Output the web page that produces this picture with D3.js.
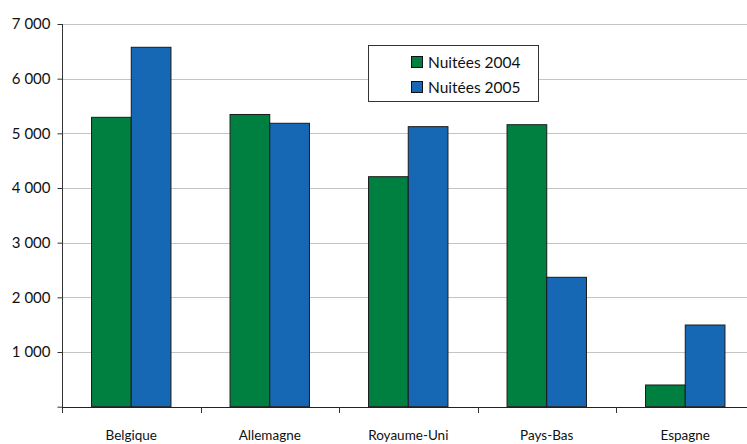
<!DOCTYPE html>
<html><head><meta charset="utf-8">
<script src="https://cdn.jsdelivr.net/npm/d3@7"></script>
<style>body{margin:0;background:#fff;}svg{display:block;font-family:Lato,"Open Sans",sans-serif;}</style>
</head><body><svg id="c" width="747" height="444"></svg>
<script>
const categories = ["Belgique","Allemagne","Royaume-Uni","Pays-Bas","Espagne"];
const seriesNames = ["Nuitées 2004","Nuitées 2005"];
const values2004 = [5293, 5345, 4207, 5158, 397];
const values2005 = [6574, 5184, 5122, 2367, 1494];
const yTicks = [0,1000,2000,3000,4000,5000,6000,7000];
const colors = ["#008040","#1668b4"];

const svg = d3.select("#c");
const x0 = d3.scaleBand().domain(categories).range([62, 754.5]).paddingInner(0).paddingOuter(0);
const x1 = d3.scaleBand().domain(seriesNames).range([0, x0.bandwidth()]).paddingInner(0).paddingOuter(0.744);
const y = d3.scaleLinear().domain([0,7000]).range([406.7, 24]);

// gridlines
svg.append("g").selectAll("line").data(yTicks.filter(d=>d>0)).join("line")
  .attr("x1",62).attr("x2",747).attr("y1",d=>Math.round(y(d))+0.5).attr("y2",d=>Math.round(y(d))+0.5)
  .attr("stroke","#c4c4c4").attr("stroke-width",1);

// bars
const data = categories.map((c,i)=>({cat:c, vals:[values2004[i], values2005[i]]}));
const g = svg.append("g").selectAll("g").data(data).join("g").attr("transform",d=>`translate(${x0(d.cat)},0)`);
g.selectAll("rect").data(d=>d.vals.map((v,j)=>({s:seriesNames[j], v, j}))).join("rect")
  .attr("x",d=>x1(d.s)).attr("width",x1.bandwidth())
  .attr("y",d=>y(d.v)).attr("height",d=>y(0)-y(d.v))
  .attr("fill",d=>colors[d.j]).attr("stroke","#1a1a1a").attr("stroke-width",1);

// y axis
const ya = svg.append("g").attr("transform","translate(62.5,0)")
  .call(d3.axisLeft(y).tickValues(yTicks).tickSize(5).tickFormat(d=>d===0?"":d3.format(",")(d).replace(","," ")));
ya.select(".domain").attr("d","M0,24V413");
ya.selectAll("line").attr("stroke","#333");
ya.select(".domain").attr("stroke","#333");
ya.selectAll("text").attr("font-size",15).attr("fill","#111").attr("x",-12).attr("font-family","Lato");

// x axis
const xa = svg.append("g").attr("transform","translate(0,407)")
  .call(d3.axisBottom(x0).tickSize(0).tickPadding(23));
xa.select(".domain").attr("d","M62,0.5H747").attr("stroke","#222");
xa.selectAll("text").attr("font-size",13.5).attr("fill","#111").attr("font-family","Lato");
svg.append("g").selectAll("line").data(categories.slice(1)).join("line")
  .attr("x1",d=>Math.round(x0(d))+0.5).attr("x2",d=>Math.round(x0(d))+0.5)
  .attr("y1",407).attr("y2",413).attr("stroke","#333");

// legend
const lg = svg.append("g");
lg.append("rect").attr("x",368.5).attr("y",45.5).attr("width",170).attr("height",56)
  .attr("fill","#fff").attr("stroke","#333");
seriesNames.forEach((s,i)=>{
  lg.append("rect").attr("x",411.5).attr("y",56.5+i*25).attr("width",11).attr("height",11)
    .attr("fill",colors[i]).attr("stroke","#111");
  lg.append("text").attr("x",428).attr("y",67.5+i*25).attr("font-size",15.5).attr("fill","#111").text(s);
});
</script></body></html>
